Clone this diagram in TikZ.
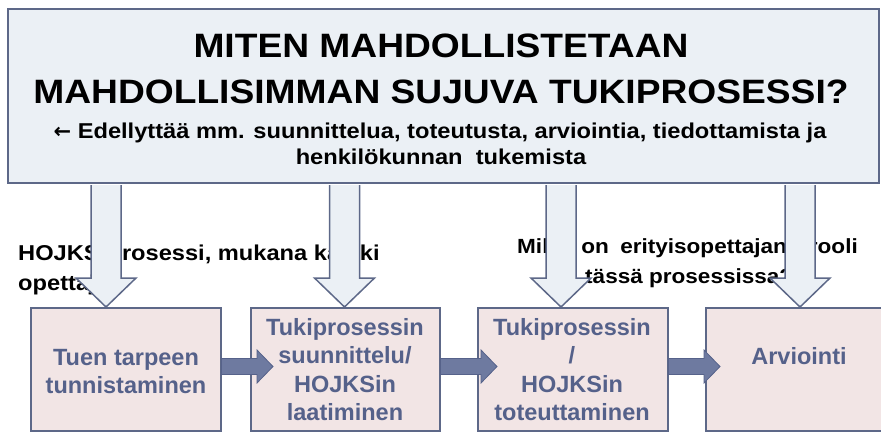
\documentclass[tikz,border=0pt]{standalone}
\usepackage{fontspec}
\setmainfont{Liberation Sans}
\newfontfamily\widefont[FakeStretch=1.1]{Liberation Sans}
\newfontfamily\symfont{DejaVu Sans}
\usetikzlibrary{calc}
\definecolor{topfill}{HTML}{EBF0F5}
\definecolor{frameline}{HTML}{5D6888}
\definecolor{pinkfill}{HTML}{F2E5E5}
\definecolor{boxtext}{HTML}{55618A}
\definecolor{harrowfill}{HTML}{6E7AA0}
\definecolor{harrowline}{HTML}{56628A}
\begin{document}
\begin{tikzpicture}[x=1pt,y=-1pt,
  topbox/.style={draw=frameline, fill=topfill, line width=2pt, anchor=north west, inner sep=0pt, minimum width=871pt, minimum height=174pt},
  stepbox/.style={draw=frameline, fill=pinkfill, line width=1.5pt, anchor=north west, inner sep=0pt, minimum height=123pt},
  titletext/.style={inner sep=0pt, anchor=base, font=\widefont\bfseries\fontsize{33.8}{40}\selectfont},
  subtext/.style={inner sep=0pt, anchor=base, font=\widefont\bfseries\fontsize{21.5}{20}\selectfont},
  lbl/.style={inner sep=0pt, anchor=base west, font=\widefont\bfseries\fontsize{21.5}{30}\selectfont},
  lbltwo/.style={inner sep=0pt, anchor=base west, font=\widefont\bfseries\fontsize{20.5}{30}\selectfont},
  steptext/.style={inner sep=0pt, anchor=base, text=boxtext, font=\bfseries\fontsize{23.5}{28}\selectfont},
  downarrow/.style={draw=frameline, fill=topfill, line width=1.5pt, line join=miter},
  harrow/.style={draw=harrowline, fill=harrowfill, line width=0.8pt, line join=miter}
]
\useasboundingbox (0,0) rectangle (881,432);
\clip (0,0) rectangle (881,432);
\fill[white] (0,0) rectangle (881,432);

% top box
\node[topbox] (top) at (7,8) {};
\node[titletext] (t1) at (441,57) {MITEN MAHDOLLISTETAAN};
\node[titletext] (t2) at (441,103) {MAHDOLLISIMMAN SUJUVA TUKIPROSESSI?};
\node[subtext] (s1) at (440,138) {{\symfont\fontsize{21}{20}\selectfont ←} Edellyttää mm. suunnittelua, toteutusta, arviointia, tiedottamista ja};
\node[subtext] (s2) at (441,164) {henkilökunnan\ \ tukemista};

% labels (partly hidden by the arrows)
\node[lbl] (l1a) at (18,260) {HOJKS-prosessi, mukana kaikki};
\node[lbl] (l1b) at (18,290) {opettajat};
\node[lbltwo] (l2a) at (517,253) {Mikä\hspace{14pt}on\hspace{11.4pt}erityisopettajan\hspace{22pt}rooli};
\node[lbltwo] (l2b) at (585,283) {tässä prosessissa?};

% step boxes
\node[stepbox, minimum width=190pt] (b1) at (30,307) {};
\node[stepbox, minimum width=189pt] (b2) at (250,307) {};
\node[stepbox, minimum width=190pt] (b3) at (477,307) {};
\node[stepbox, minimum width=189pt] (b4) at (705,307) {};

\node[steptext] (b1a) at (126,365) {Tuen tarpeen};
\node[steptext] (b1b) at (126,393) {tunnistaminen};

\node[steptext] (b2a) at (345,335) {Tukiprosessin};
\node[steptext] (b2b) at (345,363) {suunnittelu/};
\node[steptext] (b2c) at (345,392) {HOJKSin};
\node[steptext] (b2d) at (345,420) {laatiminen};

\node[steptext] (b3a) at (572,335) {Tukiprosessin};
\node[steptext] (b3b) at (572,363) {/};
\node[steptext] (b3c) at (572,392) {HOJKSin};
\node[steptext] (b3d) at (572,420) {toteuttaminen};

\node[steptext] (b4a) at (799,364) {Arviointi};

% down arrows from the top box to the steps
\coordinate (d1) at (106,307);
\coordinate (d2) at (344.5,307);
\coordinate (d3) at (561,307);
\coordinate (d4) at (800,307);
\foreach \t in {d1,d2,d3,d4}{
  \draw[downarrow] ($(top.south -| \t)+(-15,1)$) -- ($(\t)+(-15,-29)$) -- ($(\t)+(-30,-29)$) -- (\t)
     -- ($(\t)+(30,-29)$) -- ($(\t)+(15,-29)$) -- ($(top.south -| \t)+(15,1)$);
}

% horizontal arrows between the steps
\coordinate (h1) at (273,366.5);
\coordinate (h2) at (497,366.5);
\coordinate (h3) at (720,366.5);
\draw[harrow] ($(b1.east |- h1)+(0,-8)$) -- ($(h1)+(-16,-8)$) -- ($(h1)+(-16,-16.5)$) -- (h1)
   -- ($(h1)+(-16,16.5)$) -- ($(h1)+(-16,8)$) -- ($(b1.east |- h1)+(0,8)$) -- cycle;
\draw[harrow] ($(b2.east |- h2)+(0,-8)$) -- ($(h2)+(-16,-8)$) -- ($(h2)+(-16,-16.5)$) -- (h2)
   -- ($(h2)+(-16,16.5)$) -- ($(h2)+(-16,8)$) -- ($(b2.east |- h2)+(0,8)$) -- cycle;
\draw[harrow] ($(b3.east |- h3)+(0,-8)$) -- ($(h3)+(-16,-8)$) -- ($(h3)+(-16,-16.5)$) -- (h3)
   -- ($(h3)+(-16,16.5)$) -- ($(h3)+(-16,8)$) -- ($(b3.east |- h3)+(0,8)$) -- cycle;
\end{tikzpicture}
\end{document}
